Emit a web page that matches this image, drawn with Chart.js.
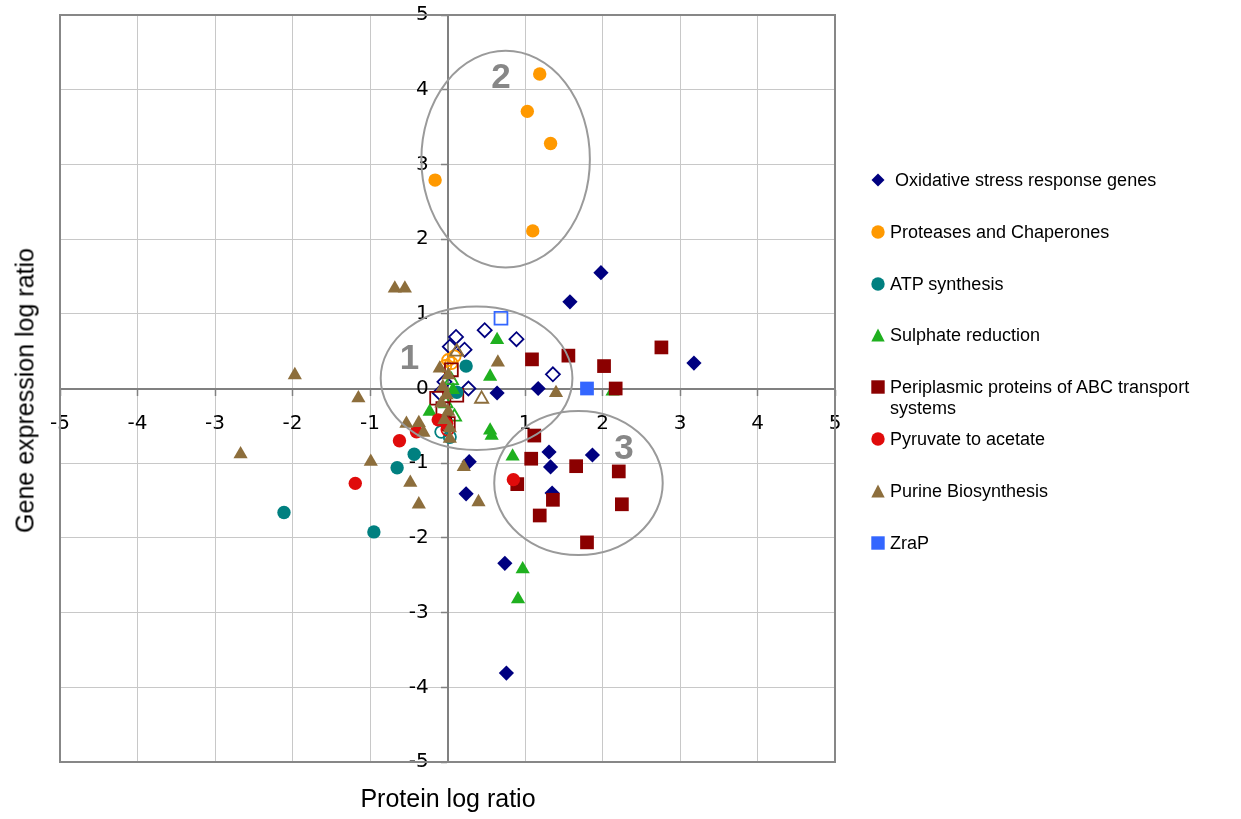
<!DOCTYPE html>
<html>
<head>
<meta charset="utf-8">
<script src="https://cdn.jsdelivr.net/npm/chart.js@4.4.1/dist/chart.umd.min.js"></script>
<style>
  html, body { margin: 0; padding: 0; background: #fff; }
  #wrap { position: relative; width: 1241px; height: 819px; overflow: hidden; }
  #c { position: absolute; left: 0; top: 0; }
  .title { position: absolute; font-family: "Liberation Sans", Arial, sans-serif; font-size: 25px; line-height: 25px; color: #000; text-align: center; white-space: nowrap; }
  .legend-item { position: absolute; left: 890px; width: 345px; font-family: "Liberation Sans", Arial, sans-serif; font-size: 18px; line-height: 20.7px; color: #000; white-space: pre-wrap; }
  .legend-marker { position: absolute; }
</style>
</head>
<body>
<div id="wrap">
  <canvas id="c" width="1241" height="819"></canvas>
  <div class="title" id="xtitle" style="left:248px; top:785.5px; width:400px;">Protein log ratio</div>
  <div class="title" id="ytitle" style="left:-175.2px; top:377.5px; width:400px; transform: rotate(-90deg); transform-origin: 50% 50%;">Gene expression log ratio</div>
  <div id="legend"></div>
</div>
<script>
// ---------- data (protein log ratio, gene expression log ratio) ----------
const seriesNames = [
  ' Oxidative stress response genes',
  'Proteases and Chaperones',
  'ATP synthesis',
  'Sulphate reduction',
  'Periplasmic proteins of ABC transport systems',
  'Pyruvate to acetate',
  'Purine Biosynthesis',
  'ZraP'
];

const oxidative = [[1.98,1.55],[1.58,1.16],[3.18,0.34],[1.17,0.0],[0.64,-0.06],[1.31,-0.85],[1.33,-1.05],
  [1.87,-0.89],[1.35,-1.40],[0.28,-0.98],[0.24,-1.41],[0.74,-2.34],[0.76,-3.81]];
const oxidativeOpen = [[0.11,0.69],[0.22,0.52],[0.48,0.78],[0.89,0.66],[1.36,0.19],[0.27,0.0],[0.03,0.56],
  [-0.04,0.09],[-0.10,-0.06]];

const proteases = [[1.19,4.21],[1.03,3.71],[1.33,3.28],[-0.16,2.79],[1.10,2.11]];
const proteasesOpen = [[0.01,0.38],[0.09,0.43],[0.05,0.34],[-0.03,0.30]];

const atp = [[0.24,0.30],[-0.65,-1.06],[-0.43,-0.88],[-2.11,-1.66],[-0.95,-1.92],[0.12,-0.05]];
const atpOpen = [[-0.08,-0.58],[0.03,-0.65]];

const sulphate = [[0.64,0.65],[0.55,0.16],[0.55,-0.56],[0.57,-0.63],[0.84,-0.91],[2.13,-0.04],
  [0.97,-2.42],[0.91,-2.82],[-0.23,-0.31],[0.07,-0.02]];
const sulphateOpen = [[0.05,0.11],[0.09,-0.38],[-0.02,-0.20]];

const periplasmic = [[1.09,0.39],[1.56,0.44],[2.02,0.30],[2.76,0.55],[2.17,0.0],[1.12,-0.63],[1.08,-0.94],
  [1.66,-1.04],[2.21,-1.11],[0.90,-1.28],[1.36,-1.49],[2.25,-1.55],[1.19,-1.70],[1.80,-2.06]];
const periplasmicOpen = [[0.05,0.25],[-0.14,-0.13],[0.12,-0.09],[0.01,-0.47],[-0.06,-0.27]];

const pyruvate = [[-1.19,-1.27],[-0.62,-0.70],[0.85,-1.22],[-0.40,-0.58],[-0.12,-0.42],[-0.01,-0.47]];
const pyruvateOpen = [[0.0,-0.55]];

const purine = [[-0.68,1.34],[-0.55,1.34],[-1.97,0.18],[-1.15,-0.13],[-2.67,-0.88],[-0.99,-0.98],
  [-0.53,-0.47],[-0.37,-0.46],[-0.31,-0.59],[-0.48,-1.26],[-0.37,-1.55],[0.21,-1.05],[0.40,-1.52],
  [0.65,0.35],[1.40,-0.06],[-0.10,0.27],[0.01,0.18],[-0.06,0.02],[-0.01,-0.09],[-0.08,-0.20],
  [0.01,-0.31],[-0.04,-0.42],[0.03,-0.53],[0.03,-0.67]];
const purineOpen = [[0.12,0.49],[0.44,-0.14]];

const zrap = [[1.80,0.0]];
const zrapOpen = [[0.69,0.94]];

const axisTicks = [-5,-4,-3,-2,-1,0,1,2,3,4,5];

// group annotations (data units)
const groupLabels = ['1','2','3'];
const groupCentersX = [0.375, 0.75, 1.69];
const groupCentersY = [0.137, 3.07, -1.265];
const groupRadiiX = [1.237, 1.087, 1.087];
const groupRadiiY = [0.96, 1.45, 0.964];
const groupLabelX = [-0.49, 0.69, 2.276];
const groupLabelY = [0.435, 4.19, -0.78];

// ---------- styles ----------
const seriesColors = ['#000080','#FF9900','#008080','#1FB01F','#8B0000','#E00B0B','#8D6E3C','#3366FF'];
const seriesShapes = ['rectRot','circle','circle','triangle','rect','circle','triangle','rect'];
const shapeRadius = { rectRot: 7.6, circle: 6.7, triangle: 8.2, rect: 9.7 };

const filledData = [oxidative, proteases, atp, sulphate, periplasmic, pyruvate, purine, zrap];
const openData = [oxidativeOpen, proteasesOpen, atpOpen, sulphateOpen, periplasmicOpen, pyruvateOpen, purineOpen, zrapOpen];

const toXY = arr => arr.map(p => ({ x: p[0], y: p[1] }));

const datasets = [];
let drawIndex = 0;
openData.forEach((arr, i) => {
  datasets.push({
    label: seriesNames[i] + ' (open)',
    data: toXY(arr),
    pointStyle: seriesShapes[i],
    pointRadius: shapeRadius[seriesShapes[i]] - 0.6,
    pointBackgroundColor: 'rgba(0,0,0,0)',
    pointBorderColor: seriesColors[i],
    pointBorderWidth: 1.8,
    showLine: false,
    order: 1000 - (drawIndex++)
  });
});
filledData.forEach((arr, i) => {
  datasets.push({
    label: seriesNames[i],
    data: toXY(arr),
    pointStyle: seriesShapes[i],
    pointRadius: shapeRadius[seriesShapes[i]],
    pointBackgroundColor: seriesColors[i],
    pointBorderColor: seriesColors[i],
    pointBorderWidth: 0,
    showLine: false,
    order: 1000 - (drawIndex++)
  });
});

const framePlugin = {
  id: 'frame',
  beforeDatasetsDraw(chart) {
    const { ctx, chartArea: a } = chart;
    ctx.save();
    ctx.strokeStyle = '#878787';
    ctx.lineWidth = 2;
    ctx.strokeRect(a.left, a.top, a.right - a.left, a.bottom - a.top);
    ctx.restore();
  },
  afterDatasetsDraw(chart) {
    const { ctx } = chart;
    const xs = chart.scales.x, ys = chart.scales.y;
    ctx.save();
    ctx.strokeStyle = '#9a9a9a';
    ctx.lineWidth = 2;
    for (let i = 0; i < groupLabels.length; i++) {
      const cx = xs.getPixelForValue(groupCentersX[i]);
      const cy = ys.getPixelForValue(groupCentersY[i]);
      const rx = Math.abs(xs.getPixelForValue(groupCentersX[i] + groupRadiiX[i]) - cx);
      const ry = Math.abs(ys.getPixelForValue(groupCentersY[i] + groupRadiiY[i]) - cy);
      ctx.beginPath();
      ctx.ellipse(cx, cy, rx, ry, 0, 0, Math.PI * 2);
      ctx.stroke();
    }
    ctx.fillStyle = '#878787';
    ctx.font = 'bold 35px "Liberation Sans", Arial, sans-serif';
    ctx.textAlign = 'center';
    ctx.textBaseline = 'alphabetic';
    for (let i = 0; i < groupLabels.length; i++) {
      const lx = xs.getPixelForValue(groupLabelX[i]);
      const ly = ys.getPixelForValue(groupLabelY[i]);
      ctx.fillText(groupLabels[i], lx, ly + 12.5);
    }
    ctx.restore();
  }
};

const tickFont = { family: '"DejaVu Sans", Verdana, sans-serif', size: 20 };
const setTicks = s => { s.ticks = axisTicks.map(v => ({ value: v })); };

const chart = new Chart(document.getElementById('c'), {
  type: 'scatter',
  data: { datasets },
  options: {
    responsive: false,
    animation: false,
    devicePixelRatio: 1,
    layout: { autoPadding: false, padding: { left: 60, top: 15, right: 406, bottom: 57 } },
    plugins: { legend: { display: false }, tooltip: { enabled: false } },
    scales: {
      x: {
        type: 'linear', min: -5, max: 5,
        position: { y: 0 },
        afterBuildTicks: setTicks,
        ticks: { font: tickFont, color: '#000', padding: 17, maxRotation: 0, autoSkip: false },
        grid: { color: '#c8c8c8', lineWidth: 1, tickLength: 6, tickColor: '#808080', tickWidth: 1.5 },
        border: { color: '#808080', width: 2 }
      },
      y: {
        type: 'linear', min: -5, max: 5,
        position: { x: 0 },
        afterBuildTicks: setTicks,
        ticks: { display: false },
        grid: { color: '#c8c8c8', lineWidth: 1, tickLength: 6, tickColor: '#808080', tickWidth: 1.5 },
        border: { color: '#808080', width: 2 }
      },
      yLabels: {
        type: 'linear', axis: 'y', min: -5, max: 5,
        position: { x: -0.242 },
        afterBuildTicks: setTicks,
        ticks: { font: tickFont, color: '#000', autoSkip: false },
        grid: { display: false, drawTicks: false },
        border: { display: false }
      }
    }
  },
  plugins: [framePlugin]
});

// keep the plot area where the reference has it
for (let k = 0; k < 3; k++) {
  const a = chart.chartArea;
  const p = chart.config.options.layout.padding;
  const dt = a.top - 15, db = a.bottom - 762, dl = a.left - 60, dr = a.right - 835;
  if (Math.abs(dt) < 0.5 && Math.abs(db) < 0.5 && Math.abs(dl) < 0.5 && Math.abs(dr) < 0.5) break;
  p.top -= dt; p.bottom += db; p.left -= dl; p.right += dr;
  chart.update();
}

// ---------- HTML legend ----------
function markerSVG(shape, color) {
  let inner = '';
  if (shape === 'rectRot') inner = `<polygon points="7,0.5 13.5,7 7,13.5 0.5,7" fill="${color}"/>`;
  else if (shape === 'circle') inner = `<circle cx="7" cy="7" r="6.7" fill="${color}"/>`;
  else if (shape === 'triangle') inner = `<polygon points="7,0.5 13.7,13.5 0.3,13.5" fill="${color}"/>`;
  else inner = `<rect x="0.3" y="0.3" width="13.4" height="13.4" fill="${color}"/>`;
  return `<svg width="14" height="14" viewBox="0 0 14 14">${inner}</svg>`;
}
const legend = document.getElementById('legend');
seriesNames.forEach((name, i) => {
  const baseline = 186.5 + 51.83 * i;
  const item = document.createElement('div');
  item.className = 'legend-item';
  item.style.top = (baseline - 16.6) + 'px';
  item.textContent = name;
  legend.appendChild(item);
  const m = document.createElement('div');
  m.className = 'legend-marker';
  m.style.left = (878.3 - 7) + 'px';
  m.style.top = (baseline - 6.6 - 7) + 'px';
  m.innerHTML = markerSVG(seriesShapes[i], seriesColors[i]);
  legend.appendChild(m);
});
</script>
</body>
</html>
